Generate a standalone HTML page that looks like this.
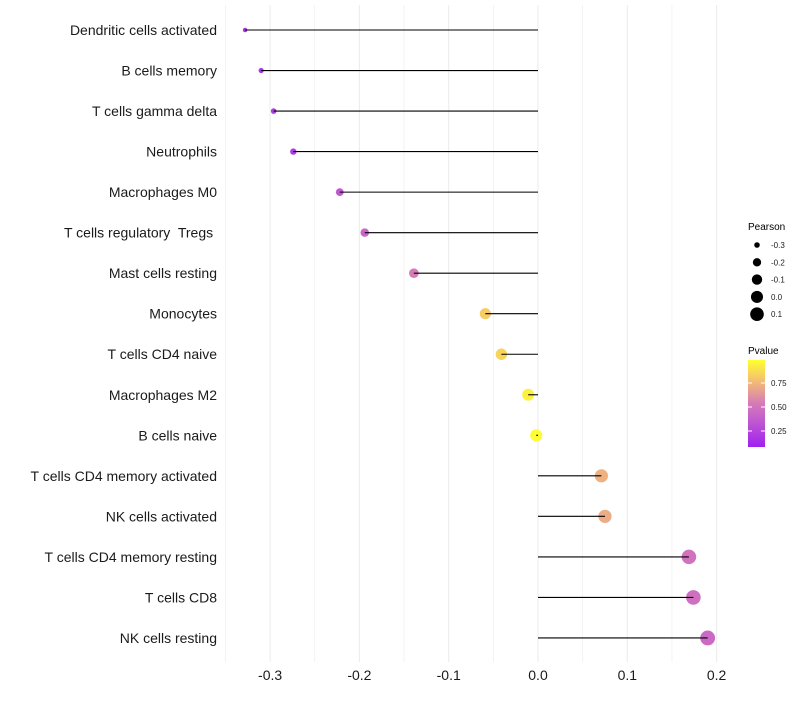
<!DOCTYPE html>
<html><head><meta charset="utf-8"><style>
body{margin:0;background:#fff;font-family:"Liberation Sans",sans-serif}
svg text{font-family:"Liberation Sans",sans-serif;white-space:pre}
</style></head><body>
<svg id="chart" width="800" height="700">
<defs><linearGradient id="pg" x1="0" y1="1" x2="0" y2="0">
<stop offset="0" stop-color="#a020f0"/><stop offset="0.3" stop-color="#c05ad0"/><stop offset="0.5" stop-color="#d67ab8"/><stop offset="0.74" stop-color="#f2b878"/><stop offset="1" stop-color="#ffff30"/></linearGradient></defs>
<g id="grid"></g><g id="marks"></g><g id="axes"></g>
<g>
<text x="748" y="230" font-size="10">Pearson</text>
<g id="sizeleg"></g>
<text x="748" y="354" font-size="10">Pvalue</text>
<rect x="748" y="360" width="17" height="87" fill="url(#pg)"/>
<g id="colleg"></g>
</g>
</svg>
<script>
const categories=["Dendritic cells activated","B cells memory","T cells gamma delta","Neutrophils","Macrophages M0","T cells regulatory  Tregs ","Mast cells resting","Monocytes","T cells CD4 naive","Macrophages M2","B cells naive","T cells CD4 memory activated","NK cells activated","T cells CD4 memory resting","T cells CD8","NK cells resting"];
const pearson=[-0.328,-0.310,-0.296,-0.274,-0.222,-0.194,-0.139,-0.059,-0.041,-0.011,-0.002,0.071,0.075,0.169,0.174,0.190];
const pvalue=[0.10,0.12,0.15,0.16,0.30,0.38,0.50,0.82,0.85,0.95,0.99,0.72,0.70,0.45,0.43,0.40];
const xTicks=[-0.3,-0.2,-0.1,0.0,0.1,0.2];
const xTickLabels=["-0.3","-0.2","-0.1","0.0","0.1","0.2"];
const sizeLegend=[-0.3,-0.2,-0.1,0.0,0.1];
const colorLegend=[0.25,0.5,0.75];
const NS="http://www.w3.org/2000/svg";
const X=v=>538+v*893;
const Y=i=>30+i*40.53;
const R=v=>Math.sqrt(5+Math.max(0,(v+0.328))/0.518*50);
const stops=[[0,[154,31,245]],[0.3,[192,90,208]],[0.5,[214,122,184]],[0.75,[242,184,120]],[1,[255,255,48]]];
function col(p){for(let k=1;k<stops.length;k++){if(p<=stops[k][0]){const a=stops[k-1],b=stops[k],t=(p-a[0])/(b[0]-a[0]);return 'rgb('+a[1].map((c,j)=>Math.round(c+(b[1][j]-c)*t)).join(',')+')';}}return 'rgb(255,255,48)';}
function mk(t,a,parent){const e=document.createElementNS(NS,t);for(const k in a)e.setAttribute(k,a[k]);parent.appendChild(e);return e;}
const grid=document.getElementById('grid'),marks=document.getElementById('marks'),axes=document.getElementById('axes');
for(let v=-0.35;v<=0.2001;v+=0.05){const l=mk('line',{x1:X(v),x2:X(v),y1:5,y2:662,stroke:'#ebebeb','stroke-width':Math.abs(Math.round(v*20))%2===0?1:0.6},grid);

}
categories.forEach((c,i)=>{const y=Y(i);
const lab=mk('text',{x:217,y:y+5,'text-anchor':'end','font-size':14,fill:'#1a1a1a'},axes);lab.textContent=c;


const pt=mk('circle',{cx:X(pearson[i]),cy:y,r:R(pearson[i]),fill:col(pvalue[i])},marks);


const ln=mk('line',{x1:X(0),x2:X(pearson[i]),y1:y,y2:y,stroke:'#000','stroke-width':1.1},marks);

});
xTicks.forEach((v,i)=>{const t=mk('text',{x:X(v),y:680,'text-anchor':'middle','font-size':14,fill:'#1a1a1a'},axes);t.textContent=xTickLabels[i];

});
const sl=document.getElementById('sizeleg');
sizeLegend.forEach((v,i)=>{const y=245+i*17.3;const c=mk('circle',{cx:757,cy:y,r:R(v),fill:'#000'},sl);


const t=mk('text',{x:771,y:y+3,'font-size':8,fill:'#1a1a1a'},sl);t.textContent=v.toFixed(1);

});
const cl=document.getElementById('colleg');
colorLegend.forEach(v=>{const y=455-v*96;mk('line',{x1:748,x2:752,y1:y,y2:y,stroke:'#fff'},cl);mk('line',{x1:761,x2:765,y1:y,y2:y,stroke:'#fff'},cl);
const t=mk('text',{x:771,y:y+3,'font-size':8,fill:'#1a1a1a'},cl);t.textContent=v.toFixed(2);

});
</script>
</body></html>
